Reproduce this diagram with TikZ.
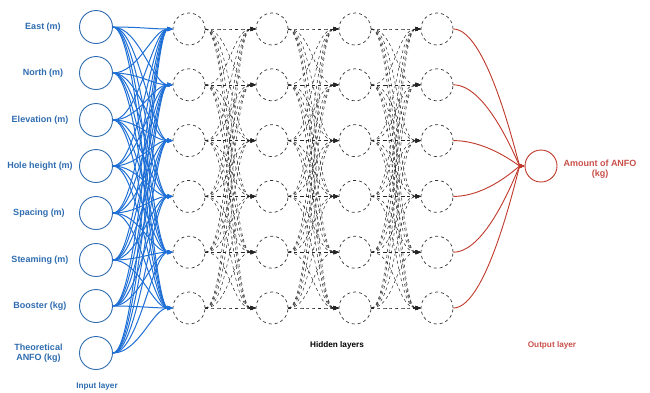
\documentclass[tikz,border=0pt]{standalone}
\usepackage{fontspec}
\setmainfont{Liberation Sans}
\usetikzlibrary{arrows.meta}
\definecolor{inblue}{HTML}{2F6DB0}
\definecolor{lineblue}{HTML}{1E6FD6}
\definecolor{outred}{HTML}{C0392B}
\definecolor{txtred}{HTML}{C8504A}
\definecolor{hidgray}{HTML}{333333}
\tikzset{
  incirc/.style={circle,draw=inblue,line width=0.9pt,minimum size=33pt,inner sep=0pt},
  hidcirc/.style={circle,draw=hidgray,dashed,line width=0.7pt,minimum size=32pt,inner sep=0pt},
  outcirc/.style={circle,draw=outred,line width=0.9pt,minimum size=32pt,inner sep=0pt},
  inlabel/.style={font=\fontsize{9}{10.5}\selectfont\bfseries,text=inblue,align=center},
  laylabel/.style={font=\fontsize{8.2}{10}\selectfont\bfseries,align=center},
  bluelink/.style={draw=lineblue,line width=1pt,-{Triangle[length=5pt,width=4pt]}},
  hidlink/.style={draw=black!85,dashed,line width=0.5pt,-{Triangle[length=5pt,width=4pt]}},
  redlink/.style={draw=outred,line width=0.9pt,-{Triangle[length=5pt,width=4pt]}},
}
\begin{document}
\begin{tikzpicture}[x=1pt,y=-1pt]
\useasboundingbox[fill=white] (0,0) rectangle (650,392);
% input nodes
\foreach \i/\y in {1/27,2/73,3/120,4/166,5/213,6/260,7/306,8/353}{
  \node[incirc] (in\i) at (96,\y) {};
}
% hidden nodes
\foreach \c/\x in {1/189,2/272,3/355,4/437}{
  \foreach \r in {1,...,6}{
    \node[hidcirc] (h\c-\r) at (\x,{29+(\r-1)*55.8}) {};
  }
}
% output node
\node[outcirc] (out) at (541,166) {};
% labels
\node[inlabel] (l1) at (43,27) {East (m)};
\node[inlabel] (l2) at (43,73) {North (m)};
\node[inlabel] (l3) at (40,120) {Elevation (m)};
\node[inlabel] (l4) at (40,166) {Hole height (m)};
\node[inlabel] (l5) at (39,213) {Spacing (m)};
\node[inlabel] (l6) at (40,260) {Steaming (m)};
\node[inlabel] (l7) at (40,306) {Booster (kg)};
\node[inlabel] (l8) at (38.5,353) {Theoretical\\ANFO (kg)};
\node[laylabel,text=inblue] (linput) at (97,386) {Input layer};
\node[laylabel,text=black] (lhidden) at (337,345) {Hidden layers};
\node[laylabel,text=txtred] (loutput) at (552,345) {Output layer};
\node[inlabel,text=txtred] (lamount) at (600,169) {Amount of ANFO\\(kg)};
% input -> hidden 1
\foreach \i in {1,...,8}{
  \foreach \j in {1,...,6}{
    \draw[bluelink] (in\i.east) .. controls +(26,0) and +(-20,0) .. (h1-\j.west);
  }
}
% hidden -> hidden
\foreach \c/\d in {1/2,2/3,3/4}{
  \foreach \i in {1,...,6}{
    \foreach \j in {1,...,6}{
      \draw[hidlink] (h\c-\i.east) .. controls +(24,0) and +(-24,0) .. (h\d-\j.west);
    }
  }
}
% hidden 4 -> output
\foreach \i in {1,...,6}{
  \draw[redlink] (h4-\i.east) .. controls +(35,0) and +(-6,0) .. (out.west);
}
\end{tikzpicture}
\end{document}
